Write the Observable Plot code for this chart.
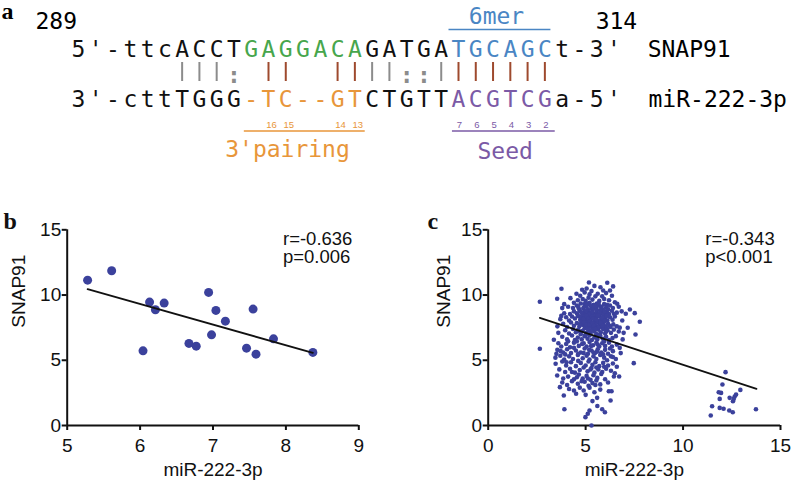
<!DOCTYPE html>
<html><head><meta charset="utf-8">
<script src="https://cdn.jsdelivr.net/npm/d3@7"></script>
<script src="https://cdn.jsdelivr.net/npm/@observablehq/plot@0.6"></script>
<style>
body{margin:0;background:#fff;width:800px;height:484px;position:relative;overflow:hidden}
.panel{position:absolute}
#pa{left:0;top:0}#pb{left:0;top:180px}#pc{left:400px;top:180px}
g[aria-label="lbl-pairing"] text{letter-spacing:2.9px}
g[aria-label="lbl-seed"] text{letter-spacing:2.3px}
g[aria-label="lbl-6mer"] text{letter-spacing:0.6px}
g[aria-label="lbl-names"] text{letter-spacing:0.8px}
g[aria-label="lbl-pos"] text{letter-spacing:1.8px}
</style></head>
<body>
<div id="pa" class="panel"></div><div id="pb" class="panel"></div><div id="pc" class="panel"></div>
<script>
// ---------- Panel a data ----------
const seqTop    = "5'-ttcACCTGAGGACAGATGATGCAGCt-3'";
const seqBottom = "3'-cttTGGG-TC--GTCTGTTACGTCGa-5'";
const regionTop    = "..........PPPPPPP.....SSSSSS....";
const regionBottom = "..........PPPPPPP.....SSSSSS....";
const pairing = "      WWWw KK  KKWWwwWKKKKKK"; // W pair, w wobble, K key pair
const pairingIdx = [11, 12, 15, 16];
const pairingNum = ["16", "15", "14", "13"];
const seedIdx = [22, 23, 24, 25, 26, 27];
const seedNum = ["7", "6", "5", "4", "3", "2"];
const startPos = "289", endPos = "314";
const geneName = "SNAP91", mirName = "miR-222-3p";

// ---------- Panel b data ----------
const bMiR   = [5.28, 5.61, 6.13, 6.21, 6.33, 6.04, 6.67, 6.77, 6.94, 7.04, 6.98, 7.17, 7.55, 7.46, 7.59, 7.83, 8.37];
const bSNAP  = [11.14, 11.86, 9.46, 8.87, 9.38, 5.72, 6.29, 6.08, 10.2, 8.82, 6.95, 8.0, 8.92, 5.93, 5.47, 6.64, 5.6];
const bFitX = [5.28, 8.37], bFitY = [10.45, 5.57];
const bNotes = ["r=-0.636", "p=0.006"];
const bTicksX = [5, 6, 7, 8, 9];

// ---------- Panel c data ----------
const cPoints = [
[5.17,10.96],[6.11,10.94],[5.76,10.6],[6.41,10.66],[3.76,10.48],[4.82,10.4],[5.45,10.7],[6.25,10.35],[5.05,10.5],
[4.53,10.1],[4.95,10.2],[5.3,10.3],[5.62,10.1],[5.9,10.35],[6.05,10.15],[5.2,10.05],[4.72,9.95],[5.85,9.9],[6.35,9.95],
[3.54,9.71],[4.22,9.76],[4.6,9.6],[4.85,9.7],[5.0,9.55],[5.15,9.8],[5.35,9.65],[5.5,9.9],[5.7,9.55],[5.95,9.7],[6.2,9.6],[6.5,9.45],[6.62,9.33],[4.4,9.4],[2.65,9.48],[3.9,9.3],[6.1,9.25],[5.58,9.35],[4.95,9.3],
[4.1,9.1],[4.35,9.0],[4.55,9.2],[4.75,9.35],[4.9,9.05],[5.05,9.15],[5.2,9.4],[5.3,9.0],[5.42,9.25],[5.55,9.05],[5.68,9.2],[5.8,9.0],[5.95,9.3],[6.05,9.05],[6.25,9.2],[6.4,9.0],[6.7,9.1],[3.8,9.0],[7.27,8.89],[4.65,8.95],[5.12,8.9],[5.9,8.85],
[3.9,8.6],[4.2,8.55],[4.4,8.75],[4.55,8.6],[4.7,8.8],[4.85,8.55],[4.95,8.7],[5.05,8.5],[5.15,8.75],[5.25,8.6],[5.35,8.85],[5.45,8.55],[5.55,8.7],[5.65,8.5],[5.75,8.8],[5.85,8.6],[5.95,8.5],[6.1,8.7],[6.2,8.55],[6.35,8.8],[6.45,8.56],[6.6,8.65],[7.06,8.56],[7.52,8.61],[3.75,8.4],[6.85,8.75],
[3.7,8.15],[4.0,8.3],[4.15,8.05],[4.3,8.35],[4.45,8.2],[4.6,8.4],[4.72,8.1],[4.82,8.3],[4.92,8.45],[5.0,8.15],[5.1,8.35],[5.18,8.05],[5.28,8.25],[5.36,8.45],[5.44,8.1],[5.52,8.3],[5.6,8.0],[5.7,8.35],[5.8,8.15],[5.9,8.4],[6.0,8.2],[6.12,8.05],[6.25,8.3],[6.38,8.1],[6.5,8.35],[6.88,8.05],[7.78,7.95],[5.22,8.48],[5.48,8.42],
[3.55,7.6],[3.85,7.8],[4.05,7.55],[4.25,7.9],[4.4,7.65],[4.55,7.85],[4.68,7.6],[4.78,7.95],[4.88,7.7],[4.98,7.55],[5.06,7.85],[5.14,7.65],[5.22,7.95],[5.3,7.7],[5.38,7.5],[5.46,7.85],[5.54,7.6],[5.62,7.9],[5.72,7.7],[5.82,7.55],[5.92,7.85],[6.02,7.6],[6.15,7.8],[6.28,7.55],[6.42,7.75],[6.6,7.6],[6.75,7.5],[7.16,7.49],[5.26,7.58],[5.5,7.72],
[3.6,7.1],[3.95,7.3],[4.15,7.05],[4.35,7.4],[4.5,7.15],[4.62,7.35],[4.75,7.0],[4.85,7.25],[4.95,7.45],[5.05,7.1],[5.15,7.3],[5.25,7.05],[5.35,7.4],[5.45,7.2],[5.55,7.0],[5.65,7.35],[5.78,7.15],[5.9,7.4],[6.0,7.05],[6.12,7.3],[6.3,7.1],[6.45,7.35],[6.7,7.2],[7.56,6.98],[6.95,7.1],
[3.37,6.57],[3.8,6.8],[4.05,6.6],[4.3,6.9],[4.45,6.55],[4.6,6.75],[4.8,6.6],[4.95,6.85],[5.1,6.65],[5.2,6.9],[5.32,6.55],[5.45,6.75],[5.6,6.6],[5.75,6.9],[5.88,6.65],[6.05,6.8],[6.2,6.55],[6.38,6.7],[6.55,6.85],[6.9,6.6],
[2.65,5.88],[3.6,6.3],[3.75,6.05],[4.0,6.25],[4.2,6.0],[4.4,6.35],[4.65,6.1],[4.9,6.3],[5.05,6.05],[5.2,6.4],[5.38,6.15],[5.55,6.35],[5.7,6.05],[5.85,6.3],[6.0,6.1],[6.2,6.35],[6.35,6.05],[6.6,6.2],[6.75,5.95],
[3.5,5.49],[3.55,5.8],[3.85,5.6],[4.05,5.85],[4.25,5.55],[4.5,5.75],[4.75,5.6],[4.95,5.9],[5.12,5.5],[5.3,5.75],[5.48,5.55],[5.62,5.85],[5.8,5.6],[6.0,5.8],[6.15,5.5],[6.4,5.7],[6.8,5.55],
[3.45,5.2],[3.7,5.35],[3.9,5.05],[4.15,5.3],[4.35,5.1],[4.6,5.4],[4.85,5.15],[5.05,5.35],[5.2,5.05],[5.4,5.3],[5.55,5.1],[5.75,5.4],[5.95,5.2],[6.1,5.0],[6.3,5.3],[6.55,5.1],
[3.46,4.73],[3.8,4.9],[4.0,4.6],[4.25,4.85],[4.5,4.55],[4.75,4.8],[5.0,4.6],[5.15,4.9],[5.35,4.65],[5.5,4.85],[5.7,4.55],[5.9,4.8],[6.15,4.6],[6.4,4.75],[7.47,4.78],[6.6,4.5],
[3.65,4.3],[3.95,4.1],[4.2,4.35],[4.45,4.05],[4.7,4.25],[4.9,4.45],[5.1,4.15],[5.3,4.4],[5.45,4.05],[5.65,4.3],[5.85,4.1],[6.05,4.35],[6.3,4.2],[6.5,4.0],
[3.54,3.83],[3.85,3.6],[4.1,3.75],[4.4,3.55],[4.65,3.9],[4.85,3.6],[5.05,3.8],[5.25,3.5],[5.4,3.85],[5.6,3.65],[5.8,3.95],[6.45,3.76],[6.72,3.76],[6.0,3.55],
[3.8,3.3],[4.05,3.1],[4.3,3.4],[4.6,3.2],[4.95,3.35],[5.15,3.05],[5.35,3.25],[5.55,3.45],[5.75,3.15],[3.68,2.94],
[3.88,2.3],[4.4,2.68],[4.51,2.43],[4.9,2.68],[4.15,2.8],[5.2,2.9],[5.59,2.12],[6.19,2.63],[6.33,2.63],[5.0,2.35],[5.45,2.55],
[3.91,1.25],[4.99,0.64],[5.11,0.9],[5.3,0.0],[5.35,1.87],[5.85,1.25],[5.99,1.02],[6.28,1.92],[5.6,1.5],[5.2,1.15],
[4.62,9.1],[4.78,8.65],[4.88,8.95],[5.02,8.8],[5.08,9.3],[5.18,8.55],[5.26,9.2],[5.33,8.7],[5.4,8.95],[5.5,9.15],[5.58,8.85],[5.66,9.35],[5.72,8.6],[5.82,9.1],[5.98,8.75],[6.15,8.9],
[4.7,8.35],[4.9,8.15],[5.04,8.4],[5.14,8.2],[5.24,8.0],[5.32,8.35],[5.4,8.2],[5.56,8.15],[5.64,8.45],[5.76,8.0],[5.86,8.25],[5.96,8.0],[6.08,8.4],
[4.72,7.75],[4.92,7.9],[5.02,7.7],[5.1,7.45],[5.2,7.75],[5.34,7.85],[5.42,7.65],[5.58,7.45],[5.68,7.55],[5.78,7.85],[5.88,7.65],[6.08,7.45],[6.22,7.65],
[4.7,7.2],[5.0,6.95],[5.28,7.25],[5.5,7.4],[5.72,6.95],[6.05,7.2],
[4.1,6.45],[4.55,6.45],[4.82,6.25],[5.28,6.1],[5.62,6.2],[5.95,6.45],[3.95,5.45],[4.4,5.95],[4.62,5.5],[5.18,5.8],[5.58,5.65],[5.9,5.45],[6.25,5.9],[4.02,4.85],[4.62,4.95],[5.25,4.3],[5.55,4.45],[5.95,4.5],[4.3,4.1],[4.8,3.4],[5.12,3.6],[5.5,3.1],[4.55,3.7],[6.15,3.3],[5.75,2.75],[4.7,2.9],[6.4,5.25],[3.72,5.7],[4.9,5.55],[5.4,5.6],
[12.02,3.14],[11.83,2.55],[11.95,2.5],[11.88,2.04],[12.39,2.12],[12.65,2.22],[12.72,2.37],[12.94,2.73],[12.56,1.86],[11.49,1.48],[11.42,0.77],[11.88,1.35],[12.08,1.28],[12.37,1.15],[12.55,1.02],[13.74,1.25],[12.18,4.09],[12.6,2.04]
];
const cFitX = [2.65, 13.77], cFitY = [8.25, 2.81];
const cNotes = ["r=-0.343", "p<0.001"];
const cTicksX = [0, 5, 10, 15];
const yTicks = [0, 5, 10, 15];

// ---------- Panel a ----------
const MONO = "DejaVu Sans Mono, monospace";
const COL = {plain:"#111", sitePair:"#47a64c", site6mer:"#4a86c4", mirPair:"#e8963a", mirSeed:"#7b5aa6", W:"#8c8c8c", w:"#8c8c8c", K:"#9e4a2e"};
const catOf = (r, top) => r === "P" ? (top ? "sitePair" : "mirPair") : r === "S" ? (top ? "site6mer" : "mirSeed") : "plain";
const ROW = {top:56, bottom:106, barTop:62, barBottom:81, colon:82, nums:127.5, under:130.5, over:29, pos:28, mer:23, lab:156.5};
const topChars = d3.range(seqTop.length).map(i => ({i, ch: seqTop[i], cat: catOf(regionTop[i], true)}));
const botChars = d3.range(seqBottom.length).map(i => ({i, ch: seqBottom[i], cat: catOf(regionBottom[i], false)}));
const bars = d3.range(pairing.length).filter(i => pairing[i] === "W" || pairing[i] === "K").map(i => ({i, kind: pairing[i]}));
const wobbles = d3.range(pairing.length).filter(i => pairing[i] === "w").map(i => ({i}));
const pNums = pairingIdx.map((i, k) => ({i, n: pairingNum[k]}));
const sNums = seedIdx.map((i, k) => ({i, n: seedNum[k]}));

const pa = Plot.plot({
  width: 800, height: 180, margin: 0,
  x: {domain: [0, 22], range: [78, 458], axis: null},
  y: {type: "identity", axis: null},
  color: {domain: Object.keys(COL), range: Object.values(COL)},
  marks: [
    Plot.text(["a"], {frameAnchor: "top-left", dx: 1, dy: 18, lineAnchor: "bottom", textAnchor: "start", fontFamily: "Liberation Serif, serif", fontWeight: "bold", fontSize: 24}),
    Plot.text(topChars, {x: "i", y: ROW.top, text: "ch", fill: "cat", fontFamily: MONO, fontSize: 23, lineAnchor: "bottom"}),
    Plot.text(botChars, {x: "i", y: ROW.bottom, text: "ch", fill: "cat", fontFamily: MONO, fontSize: 23, lineAnchor: "bottom"}),
    Plot.ruleX(bars, {x: "i", y1: ROW.barTop, y2: ROW.barBottom, stroke: "kind", strokeWidth: 2}),
    Plot.text(wobbles, {x: "i", y: ROW.colon, text: () => ":", fill: COL.w, fontFamily: MONO, fontSize: 23, fontWeight: "bold", lineAnchor: "bottom"}),
    Plot.text(pNums, {x: "i", y: ROW.nums, text: "n", fill: COL.mirPair, fontSize: 9.5, dx: 3, lineAnchor: "bottom", fontFamily: "Liberation Sans, sans-serif"}),
    Plot.text(sNums, {x: "i", y: ROW.nums, text: "n", fill: COL.mirSeed, fontSize: 9.5, dx: 1, lineAnchor: "bottom", fontFamily: "Liberation Sans, sans-serif"}),
    Plot.ruleY([ROW.under], {x1: 9.6, x2: 16.6, stroke: COL.mirPair, strokeWidth: 1.7}),
    Plot.ruleY([ROW.under], {x1: 21.65, x2: 27.6, stroke: COL.mirSeed, strokeWidth: 1.7}),
    Plot.ruleY([ROW.over], {x1: 21.45, x2: 27.35, stroke: COL.site6mer, strokeWidth: 1.7}),
    Plot.text(["6mer"], {x: 24.2, y: ROW.mer, fill: COL.site6mer, fontFamily: MONO, fontSize: 23, lineAnchor: "bottom", ariaLabel: "lbl-6mer"}),
    Plot.text(["3'pairing"], {x: 12.1, y: ROW.lab, fill: COL.mirPair, fontFamily: MONO, fontSize: 23, lineAnchor: "bottom", ariaLabel: "lbl-pairing"}),
    Plot.text(["Seed"], {x: 24.7, y: ROW.lab + 1.5, fill: COL.mirSeed, fontFamily: MONO, fontSize: 23, lineAnchor: "bottom", ariaLabel: "lbl-seed"}),
    Plot.text([startPos], {x: -2.49, y: ROW.pos, fontFamily: MONO, fontSize: 23, textAnchor: "start", lineAnchor: "bottom", ariaLabel: "lbl-pos"}),
    Plot.text([endPos], {x: 29.94, y: ROW.pos, fontFamily: MONO, fontSize: 23, textAnchor: "start", lineAnchor: "bottom", ariaLabel: "lbl-pos"}),
    Plot.text([geneName], {x: 32.95, y: ROW.top, fontFamily: MONO, fontSize: 23, textAnchor: "start", lineAnchor: "bottom", ariaLabel: "lbl-names"}),
    Plot.text([mirName], {x: 33.0, y: ROW.bottom, fontFamily: MONO, fontSize: 23, textAnchor: "start", lineAnchor: "bottom", ariaLabel: "lbl-names"})
  ]
});
document.getElementById("pa").append(pa);

// ---------- Panels b, c ----------
const DOT = "#3b419c";
function scatter({pts, fitX, fitY, xDomain, xTicks, r, ml, mr, notes, noteX, letter, letterDx, yLabDx}) {
  return Plot.plot({
    width: 400, height: 304, marginLeft: ml, marginRight: mr, marginTop: 49.3, marginBottom: 59,
    x: {domain: xDomain, axis: null}, y: {domain: [0, 15], axis: null},
    style: {fontFamily: "Liberation Sans, Arial, sans-serif", color: "#111"},
    marks: [
      Plot.axisX(xTicks, {tickSize: 5, tickPadding: 8, fontSize: 19, strokeWidth: 2, label: null}),
      Plot.axisY(yTicks, {tickSize: 5, tickPadding: 1, fontSize: 19, strokeWidth: 2, label: null}),
      Plot.ruleY([0], {strokeWidth: 2}),
      Plot.ruleX([xDomain[0]], {strokeWidth: 2}),
      Plot.dot(pts, {x: d => d[0], y: d => d[1], r, fill: DOT}),
      Plot.line(fitX.map((x, k) => [x, fitY[k]]), {x: d => d[0], y: d => d[1], stroke: "#111", strokeWidth: 1.8}),
      Plot.text([notes[0]], {x: noteX, y: 13.85, textAnchor: "start", lineAnchor: "bottom", fontSize: 18.5}),
      Plot.text([notes[1]], {x: noteX, y: 12.45, textAnchor: "start", lineAnchor: "bottom", fontSize: 18.5}),
      Plot.text(["miR-222-3p"], {frameAnchor: "bottom", dy: 50, lineAnchor: "bottom", fontSize: 19}),
      Plot.text(["SNAP91"], {frameAnchor: "left", rotate: -90, dx: yLabDx, fontSize: 19}),
      Plot.text([letter], {frameAnchor: "top-left", dx: letterDx, dy: -1.3, textAnchor: "start", lineAnchor: "bottom", fontFamily: "Liberation Serif, serif", fontWeight: "bold", fontSize: 24})
    ]
  });
}
const bPts = bMiR.map((x, k) => [x, bSNAP[k]]);
document.getElementById("pb").append(scatter({pts: bPts, fitX: bFitX, fitY: bFitY, xDomain: [5, 9], xTicks: bTicksX, r: 4.5, ml: 66.7, mr: 41.7, notes: bNotes, noteX: 7.96, letter: "b", letterDx: -63.7, yLabDx: -48.5}));
document.getElementById("pc").append(scatter({pts: cPoints, fitX: cFitX, fitY: cFitY, xDomain: [0, 15], xTicks: cTicksX, r: 2.3, ml: 87.7, mr: 20, notes: cNotes, noteX: 11.14, letter: "c", letterDx: -60.7, yLabDx: -44.4}));
</script>
</body></html>
